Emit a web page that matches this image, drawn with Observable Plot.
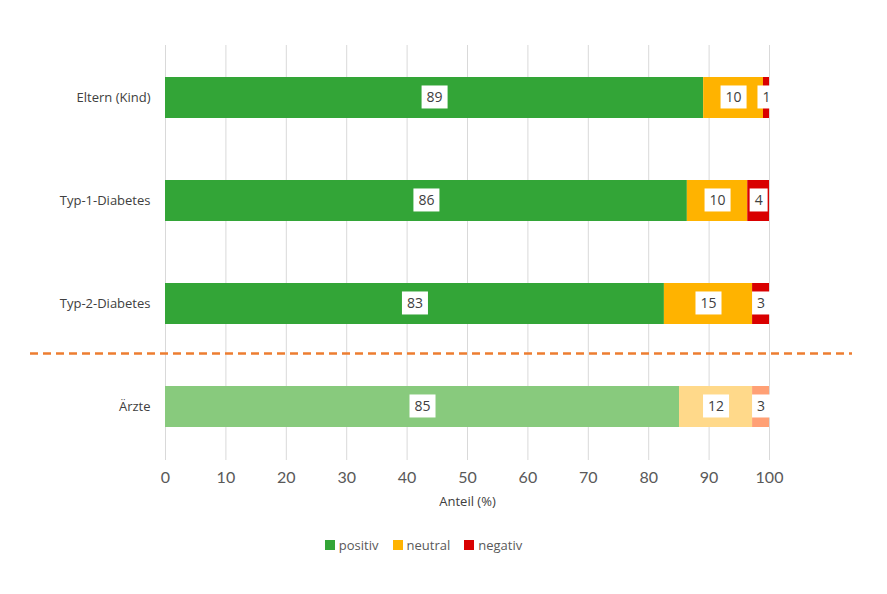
<!DOCTYPE html>
<html><head><meta charset="utf-8">
<script src="https://cdn.jsdelivr.net/npm/d3@7"></script>
<script src="https://cdn.jsdelivr.net/npm/@observablehq/plot@0.6"></script>
<style>
body{margin:0;background:#fff;font-family:"Open Sans",Lato,sans-serif;}
#legend{display:flex;justify-content:center;align-items:center;padding-right:40px;margin-top:16px;font-size:13px;color:#595959;}
#legend .item{display:flex;align-items:center;margin:0 7px;}
#legend .sw{width:10px;height:10px;margin-right:4px;}
</style></head><body>
<div id="chart"></div>
<div id="legend"></div>
<script>
const categories = ["Eltern (Kind)", "Typ-1-Diabetes", "Typ-2-Diabetes", "Ärzte"];
const seriesNames = ["positiv", "neutral", "negativ"];
const positiv = [89.1, 86.4, 82.6, 85.1];
const neutral = [9.9, 10.0, 14.6, 12.1];
const negativ = [1.0, 3.6, 2.8, 2.8];
const xTicks = [0, 10, 20, 30, 40, 50, 60, 70, 80, 90, 100];
const lightCategory = "Ärzte";
const separatorBefore = "Ärzte";

const darkColors = ["#33A537", "#FFB300", "#D90000"];
const lightColors = ["#88CA7D", "#FFD98A", "#FFA075"];

const seriesValues = [positiv, neutral, negativ];
const rows = [];
categories.forEach((c, i) => {
  seriesNames.forEach((s, j) => {
    rows.push({cat: c, series: s, value: seriesValues[j][i], key: (c === lightCategory ? "l-" : "d-") + s});
  });
});
const colorDomain = [...seriesNames.map(s => "d-" + s), ...seriesNames.map(s => "l-" + s)];
const colorRange = [...darkColors, ...lightColors];

const plot = Plot.plot({
  width: 887, height: 520,
  marginLeft: 165, marginRight: 118, marginTop: 45, marginBottom: 60,
  style: {fontFamily: "'Open Sans', Lato, sans-serif", fontSize: "13px", color: "#404040", background: "#fff"},
  x: {domain: [0, 100]},
  y: {domain: categories, paddingInner: 0.6, paddingOuter: 0.3},
  color: {domain: colorDomain, range: colorRange},
  marks: [
    Plot.gridX(xTicks, {stroke: "#d9d9d9", strokeOpacity: 1}),
    Plot.barX(rows, Plot.stackX({x: "value", y: "cat", fill: "key"})),
    Plot.text(rows, Plot.stackX({x: "value", y: "cat", text: d => String(Math.round(d.value)), fill: "#404040", fontSize: 14})),
    Plot.axisX(xTicks, {tickSize: 0, tickPadding: 11, fontSize: 16, fontFamily: "Lato, sans-serif", color: "#595959", label: null}),
    Plot.axisY({tickSize: 0, tickPadding: 15, fontSize: 13, color: "#404040", label: null}),
    Plot.text(["Anteil (%)"], {frameAnchor: "bottom", dy: 45, text: d => d, fontSize: 13, fill: "#404040"})
  ]
});
document.getElementById("chart").appendChild(plot);

// white boxes behind value labels (numeric texts of text marks)
d3.select(plot).selectAll('g[aria-label="text"] text').each(function() {
  if (!/^\d+$/.test(this.textContent.trim())) return;
  const b = this.getBBox();
  const r = d3.select(this.parentNode).insert("rect", () => this)
    .attr("x", b.x - 5).attr("y", b.y - 2)
    .attr("width", b.width + 10).attr("height", b.height + 4)
    .attr("fill", "#fff");
  const tr = this.getAttribute("transform");
  if (tr) r.attr("transform", tr);
});

// dashed separator line
const ys = plot.scale("y");
const sepY = ys.apply(separatorBefore) - (ys.step - ys.bandwidth) / 2;
d3.select(plot).append("line")
  .attr("x1", 30).attr("x2", 852).attr("y1", sepY - 1.5).attr("y2", sepY - 1.5)
  .attr("stroke", "#ED7D31").attr("stroke-width", 2.5).attr("stroke-dasharray", "8,5");

// legend
const lg = d3.select("#legend");
seriesNames.forEach((s, j) => {
  const it = lg.append("div").attr("class", "item");
  it.append("div").attr("class", "sw").style("background", darkColors[j]);
  it.append("span").text(s);
});
</script>
</body></html>
